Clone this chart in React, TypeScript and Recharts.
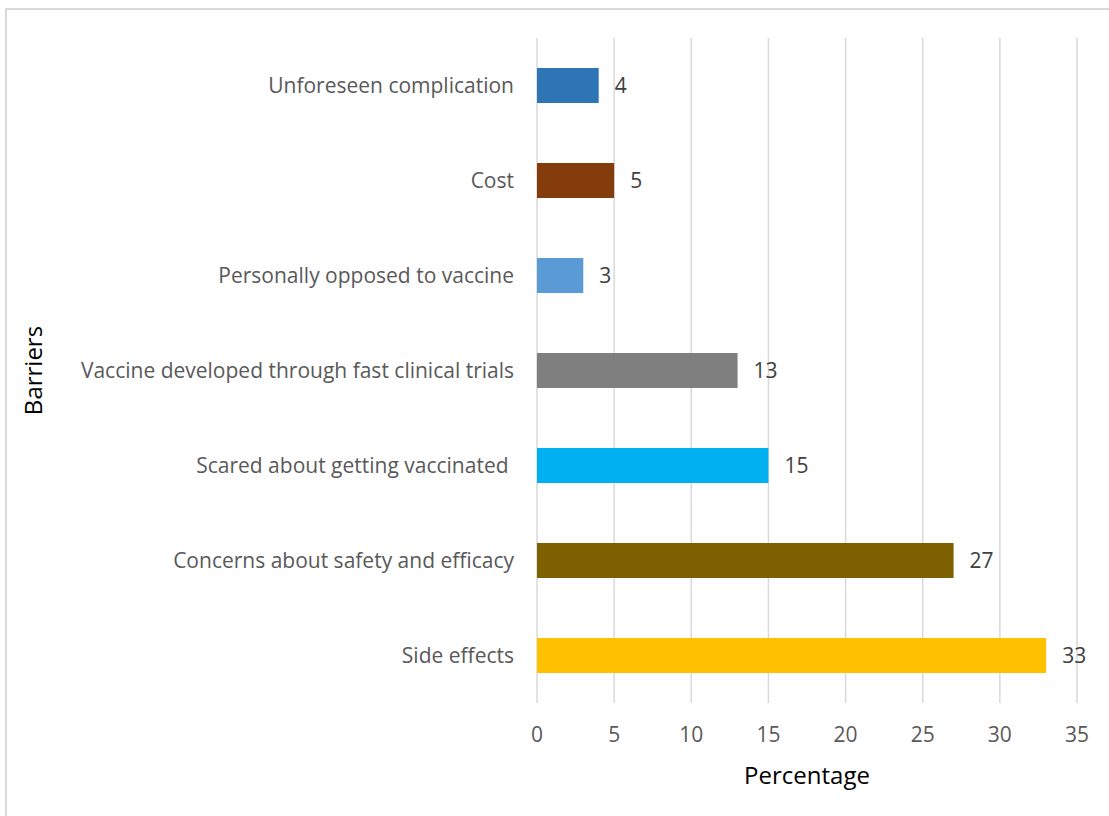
import React from 'react';
import { BarChart, Bar, XAxis, YAxis, CartesianGrid, Cell, LabelList } from 'recharts';

// Barrier categories, top to bottom
const barriers = [
    'Unforeseen complication',
    'Cost',
    'Personally opposed to vaccine',
    'Vaccine developed through fast clinical trials',
    'Scared about getting vaccinated ',
    'Concerns about safety and efficacy',
    'Side effects',
];
const percentages = [4, 5, 3, 13, 15, 27, 33];
const barColors = ['#2E75B6', '#843C0C', '#5B9BD5', '#7F7F7F', '#00B0F0', '#7F6000', '#FFC000'];
const xTicks = [0, 5, 10, 15, 20, 25, 30, 35];

const data = barriers.map((name, i) => ({ name, value: percentages[i] }));

const FONT = '"Open Sans", Lato, sans-serif';

// Category tick: keeps trailing spaces in the label text
const BarrierTick = (props: any) => {
    const { x, y, payload } = props;
    return (
        <text x={x} y={y} dy="0.35em" textAnchor="end" fill="#595959" fontSize={21} fontFamily={FONT} style={{ whiteSpace: 'pre' }}>
            {payload.value}
        </text>
    );
};

export default function App() {
    return (
        <div style={{ position: 'absolute', left: 0, top: 0, width: 1109, height: 816, overflow: 'hidden', background: '#fff', fontFamily: FONT }}>
            <div style={{ position: 'absolute', left: 5, top: 8, width: 1200, height: 900, border: '2px solid #d9d9d9' }} />
            <div style={{ position: 'absolute', left: 0, top: 0 }}>
                <BarChart
                    width={1109}
                    height={816}
                    data={data}
                    layout="vertical"
                    margin={{ top: 38, right: 32, bottom: 13, left: 0 }}
                    barSize={35}
                >
                    <CartesianGrid horizontal={false} stroke="#d9d9d9" strokeWidth={1.5} />
                    <XAxis
                        type="number"
                        domain={[0, 35]}
                        ticks={xTicks}
                        interval={0}
                        height={100}
                        axisLine={false}
                        tickLine={false}
                        tickSize={0}
                        tickMargin={24}
                        tick={{ fontSize: 21, fill: '#595959', fontFamily: FONT }}
                        label={{
                            content: ({ viewBox }: any) => (
                                <text x={viewBox.x + viewBox.width / 2} y={784} textAnchor="middle" fill="#000" fontSize={24} fontFamily={FONT}>
                                    Percentage
                                </text>
                            ),
                        }}
                    />
                    <YAxis
                        type="category"
                        dataKey="name"
                        width={537}
                        axisLine={false}
                        tickLine={false}
                        tickSize={0}
                        tickMargin={23}
                        interval={0}
                        tick={<BarrierTick />}
                        label={{
                            content: ({ viewBox }: any) => (
                                <text
                                    x={42}
                                    y={viewBox.y + viewBox.height / 2}
                                    transform={`rotate(-90, 42, ${viewBox.y + viewBox.height / 2})`}
                                    textAnchor="middle"
                                    fill="#000"
                                    fontSize={24}
                                    fontFamily={FONT}
                                >
                                    Barriers
                                </text>
                            ),
                        }}
                    />
                    <Bar dataKey="value" isAnimationActive={false}>
                        {data.map((d, i) => (
                            <Cell key={d.name} fill={barColors[i]} />
                        ))}
                        <LabelList dataKey="value" position="right" offset={16} fill="#404040" fontSize={21} fontFamily={FONT} />
                    </Bar>
                </BarChart>
            </div>
        </div>
    );
}
